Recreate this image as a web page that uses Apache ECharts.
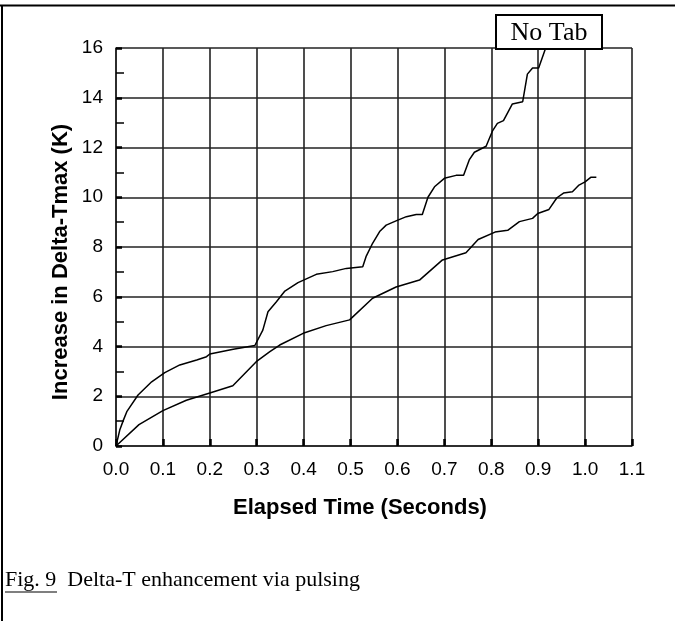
<!DOCTYPE html>
<html>
<head>
<meta charset="utf-8">
<script src="https://cdn.jsdelivr.net/npm/echarts@6/dist/echarts.min.js"></script>
<style>
html,body{margin:0;padding:0;background:#fff;}
#chart{width:675px;height:621px;}
</style>
</head>
<body>
<div id="chart"></div>
<script>
// Upper curve (No Tab)
var upperTime  = [0, 0.008, 0.016, 0.023, 0.047, 0.076, 0.104, 0.136, 0.172, 0.193, 0.200, 0.250, 0.296, 0.300, 0.313, 0.324, 0.342, 0.360, 0.388, 0.427, 0.462, 0.491, 0.526, 0.533, 0.547, 0.562, 0.576, 0.597, 0.619, 0.640, 0.653, 0.665, 0.679, 0.700, 0.725, 0.741, 0.753, 0.764, 0.789, 0.803, 0.813, 0.826, 0.845, 0.867, 0.877, 0.888, 0.901, 0.916];
var upperDelta = [0, 0.64, 1.05, 1.38, 2.05, 2.58, 2.95, 3.26, 3.46, 3.59, 3.70, 3.89, 4.04, 4.06, 4.66, 5.40, 5.80, 6.23, 6.57, 6.90, 7.01, 7.14, 7.21, 7.61, 8.15, 8.62, 8.88, 9.05, 9.22, 9.31, 9.31, 10.00, 10.42, 10.76, 10.88, 10.88, 11.50, 11.81, 12.05, 12.68, 12.97, 13.08, 13.75, 13.84, 14.95, 15.20, 15.20, 16.00];
// Lower curve
var lowerTime  = [0, 0.049, 0.100, 0.150, 0.200, 0.249, 0.299, 0.328, 0.349, 0.399, 0.448, 0.498, 0.547, 0.597, 0.647, 0.696, 0.746, 0.772, 0.808, 0.835, 0.860, 0.888, 0.899, 0.923, 0.940, 0.954, 0.973, 0.987, 1.000, 1.012, 1.024];
var lowerDelta = [0, 0.86, 1.42, 1.84, 2.13, 2.42, 3.39, 3.79, 4.06, 4.53, 4.84, 5.07, 5.94, 6.39, 6.67, 7.48, 7.77, 8.30, 8.60, 8.67, 9.02, 9.15, 9.35, 9.51, 9.98, 10.17, 10.22, 10.49, 10.62, 10.80, 10.80];

var xTicks = ['0.0','0.1','0.2','0.3','0.4','0.5','0.6','0.7','0.8','0.9','1.0','1.1'];
var yTicks = ['0','2','4','6','8','10','12','14','16'];

var xLabelText = 'Elapsed Time (Seconds)';
var yLabelText = 'Increase in Delta-Tmax (K)';
var legendText = 'No Tab';
var captionText = 'Fig. 9  Delta-T enhancement via pulsing';

function zip(a, b){ return a.map(function(v,i){ return [v, b[i]]; }); }

var chart = echarts.init(document.getElementById('chart'), null, {renderer:'canvas'});
var gridColor = '#222';
var sansFont = '"Liberation Sans", Arial, sans-serif';
var serifFont = '"Liberation Serif", "Times New Roman", serif';

chart.setOption({
  animation: false,
  backgroundColor: '#fff',
  grid: {left: 116, top: 48, width: 516, height: 398},
  xAxis: {
    type: 'value', min: 0, max: 1.1, interval: 0.1,
    axisLine: {show: true, onZero: false, lineStyle: {color: gridColor, width: 1.5}},
    axisTick: {show: true, inside: true, length: 7, lineStyle: {color: '#000', width: 2.5}},
    axisLabel: {margin: 14, fontSize: 19, color: '#000', fontFamily: sansFont,
      formatter: function(v){ return xTicks[Math.round(v*10)]; }},
    splitLine: {show: true, lineStyle: {color: gridColor, width: 1.6}}
  },
  yAxis: {
    type: 'value', min: 0, max: 16, interval: 2,
    axisLine: {show: true, lineStyle: {color: gridColor, width: 1.5}},
    axisTick: {show: true, inside: true, length: 6, lineStyle: {color: '#000', width: 2.5}},
    minorTick: {show: true, splitNumber: 2, length: 8, lineStyle: {color: '#000', width: 1.5}},
    axisLabel: {margin: 13, fontSize: 19, color: '#000', fontFamily: sansFont,
      formatter: function(v){ return yTicks[Math.round(v/2)]; }},
    splitLine: {show: true, lineStyle: {color: gridColor, width: 1.6}}
  },
  series: [
    {type: 'line', data: zip(upperTime, upperDelta), showSymbol: false, symbol: 'none',
     lineStyle: {color: '#000', width: 1.5}, clip: true, z: 5},
    {type: 'line', data: zip(lowerTime, lowerDelta), showSymbol: false, symbol: 'none',
     lineStyle: {color: '#000', width: 1.5}, clip: true, z: 5}
  ],
  graphic: [
    {type: 'line', shape: {x1: 0, y1: 5.5, x2: 675, y2: 5.5}, style: {stroke: '#000', lineWidth: 2}},
    {type: 'line', shape: {x1: 2, y1: 5, x2: 2, y2: 621}, style: {stroke: '#000', lineWidth: 2}},
    {type: 'rect', shape: {x: 496, y: 15, width: 106, height: 34},
     style: {fill: '#fff', stroke: '#000', lineWidth: 2}, z: 100},
    {type: 'text', x: 549, y: 33, z: 101,
     style: {text: legendText, font: '26px ' + serifFont, fill: '#000', textAlign: 'center', textVerticalAlign: 'middle'}},
    {type: 'text', x: 61, y: 262, rotation: Math.PI/2, z: 50,
     style: {text: yLabelText, font: 'bold 22px ' + sansFont, fill: '#000', textAlign: 'center', textVerticalAlign: 'middle'}},
    {type: 'text', x: 360, y: 508, z: 50,
     style: {text: xLabelText, font: 'bold 22px ' + sansFont, fill: '#000', textAlign: 'center', textVerticalAlign: 'middle'}},
    {type: 'text', x: 5, y: 580, z: 50,
     style: {text: captionText, font: '22px ' + serifFont, fill: '#000', textAlign: 'left', textVerticalAlign: 'middle'}},
    {type: 'line', shape: {x1: 5, y1: 592, x2: 57, y2: 592}, style: {stroke: '#000', lineWidth: 1.2}}
  ]
});
</script>
</body>
</html>
